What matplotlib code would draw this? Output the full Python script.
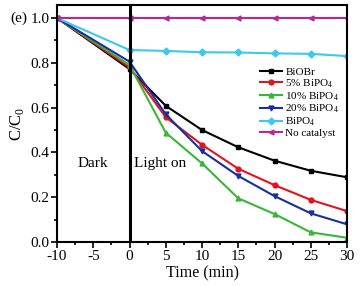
import matplotlib
matplotlib.use("Agg")
import matplotlib.pyplot as plt
from matplotlib.ticker import MultipleLocator

plt.rcParams['font.family'] = ['Liberation Serif', 'DejaVu Serif']
plt.rcParams['mathtext.fontset'] = 'custom'
plt.rcParams['mathtext.rm'] = 'Liberation Serif'
plt.rcParams['axes.unicode_minus'] = False

time = [-10, 0, 5, 10, 15, 20, 25, 30]
biobr = [1.0, 0.772, 0.608, 0.50, 0.423, 0.363, 0.318, 0.289]
bipo4_5 = [1.0, 0.78, 0.557, 0.434, 0.327, 0.254, 0.188, 0.138]
bipo4_10 = [1.0, 0.79, 0.488, 0.351, 0.195, 0.125, 0.043, 0.019]
bipo4_20 = [1.0, 0.805, 0.57, 0.406, 0.295, 0.205, 0.128, 0.079]
bipo4 = [1.0, 0.857, 0.853, 0.847, 0.846, 0.842, 0.84, 0.83]
no_cat = [1.0, 1.0, 1.0, 1.0, 1.0, 1.0, 1.0, 1.0]

labels = ["BiOBr", "5% BiPO$_4$", "10% BiPO$_4$", "20% BiPO$_4$", "BiPO$_4$", "No catalyst"]
colors = ["#000000", "#e0141e", "#3cb43c", "#1a2ea0", "#3cc8f0", "#b4289a"]
markers = ["s", "o", "^", "v", "D", "<"]
series = [biobr, bipo4_5, bipo4_10, bipo4_20, bipo4, no_cat]

fig = plt.figure(figsize=(3.63, 2.86), dpi=100)
ax = fig.add_axes([57/363, 1-242/286, 290/363, 237/286])

for ys, lab, c, m in zip(series, labels, colors, markers):
    ax.plot(time, ys, color=c, marker=m, markersize=3.5, linewidth=1.5, label=lab)

ax.axvline(0, color='black', linewidth=2.2)
ax.set_xlim(-10, 30)
ax.set_ylim(0, 1.058)
ax.xaxis.set_major_locator(MultipleLocator(5))
ax.xaxis.set_minor_locator(MultipleLocator(2.5))
ax.yaxis.set_minor_locator(MultipleLocator(0.1))
ax.set_yticks([0, 0.2, 0.4, 0.6, 0.8, 1.0])
ax.set_yticklabels(["0.0", "0.2", "0.4", "0.6", "0.8", "1.0"])
ax.tick_params(which='both', direction='out', width=1.2, labelsize=11, pad=1.5)
ax.tick_params(which='major', length=4)
ax.tick_params(which='minor', length=2.5)
for s in ax.spines.values():
    s.set_linewidth(1.5)

ax.set_xlabel("Time (min)", fontsize=11.5, labelpad=2)
ax.set_ylabel("C/C$_0$", fontsize=12, labelpad=3)
ax.text(-5, 0.35, "Dark", fontsize=11, ha='center', va='center')
ax.text(0.6, 0.35, "Light on", fontsize=11, ha='left', va='center')
fig.text(10/363, 1-18/286, "(e)", fontsize=11, ha='left', va='center')

ax.legend(loc='upper right', bbox_to_anchor=(1.0, 0.77), fontsize=8, frameon=False,
          handlelength=2.0, handletextpad=0.3, labelspacing=0.0, borderpad=0.2)

fig.savefig("out.png", dpi=100)
